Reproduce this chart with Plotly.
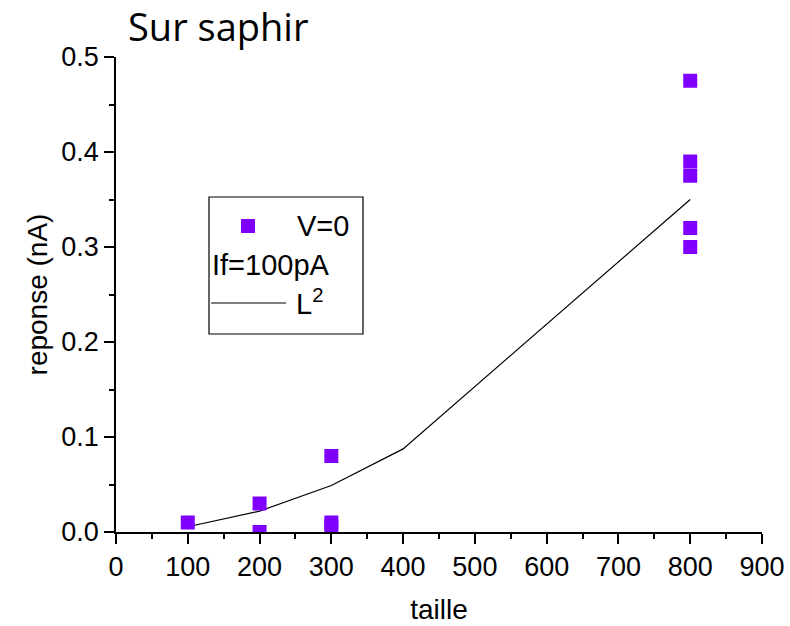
import plotly.graph_objects as go

# Measured responses (nA) versus size, V=0, If=100pA
taille_pts = [100, 200, 200, 300, 300, 300, 800, 800, 800, 800, 800]
reponse_pts = [0.010, 0.030, 0.000, 0.080, 0.010, 0.006, 0.475, 0.390, 0.375, 0.320, 0.300]

# L^2 reference curve
taille_l2 = [100, 200, 300, 400, 800]
reponse_l2 = [0.0055, 0.022, 0.049, 0.0875, 0.350]

x_ticks = [0, 100, 200, 300, 400, 500, 600, 700, 800, 900]
y_ticks = [0.0, 0.1, 0.2, 0.3, 0.4, 0.5]

PURPLE = "#7f00ff"
W, H = 790, 626
L, R, T, B = 116, 28, 57, 94
PW, PH = W - L - R, H - T - B


def px_x(px):
    return (px - L) / PW


def px_y(py):
    return (H - B - py) / PH


fig = go.Figure()
fig.add_trace(go.Scatter(
    x=taille_l2, y=reponse_l2, mode="lines",
    line=dict(color="black", width=1.2), showlegend=False,
))
fig.add_trace(go.Scatter(
    x=taille_pts, y=reponse_pts, mode="markers",
    marker=dict(symbol="square", size=14, color=PURPLE, line=dict(width=0)),
    showlegend=False,
))

axis_font = dict(family="Liberation Sans, Arial", size=27, color="black")
title_font = dict(family="Liberation Sans, Arial", size=28, color="black")
common = dict(
    showline=True, linecolor="black", linewidth=1.5, mirror=False,
    ticks="outside", ticklen=10, tickwidth=1.5, tickcolor="black",
    showgrid=False, zeroline=False, tickfont=axis_font, automargin=False,
)

fig.update_xaxes(
    range=[0, 900], tickvals=x_ticks, ticktext=[str(v) for v in x_ticks],
    title=dict(text="taille", font=title_font, standoff=18),
    minor=dict(ticks="outside", ticklen=5, tickwidth=1.5, tickcolor="black", dtick=50),
    **common,
)
fig.update_yaxes(
    range=[0, 0.5], tickvals=y_ticks, ticktext=[f"{v:.1f}" for v in y_ticks],
    title=dict(text="reponse (nA)", font=title_font, standoff=6),
    minor=dict(ticks="outside", ticklen=5, tickwidth=1.5, tickcolor="black", dtick=0.05),
    **common,
)

shapes = [
    # legend frame
    dict(type="rect", xref="paper", yref="paper",
         x0=px_x(209), x1=px_x(363), y0=px_y(334), y1=px_y(197),
         line=dict(color="black", width=1.2), fillcolor="rgba(0,0,0,0)"),
    # legend marker sample
    dict(type="rect", xref="paper", yref="paper",
         x0=px_x(241), x1=px_x(255), y0=px_y(233), y1=px_y(219),
         line=dict(width=0), fillcolor=PURPLE),
    # legend line sample
    dict(type="line", xref="paper", yref="paper",
         x0=px_x(211), x1=px_x(286), y0=px_y(303), y1=px_y(303),
         line=dict(color="black", width=1)),
]

legend_font = dict(family="Liberation Sans, Arial", size=29, color="black")
annotations = [
    dict(text="V=0", x=px_x(295), y=px_y(226), xref="paper", yref="paper",
         xanchor="left", yanchor="middle", showarrow=False, font=legend_font),
    dict(text="If=100pA", x=px_x(210), y=px_y(265), xref="paper", yref="paper",
         xanchor="left", yanchor="middle", showarrow=False, font=legend_font),
    dict(text="L<sup>2</sup>", x=px_x(294), y=px_y(302), xref="paper", yref="paper",
         xanchor="left", yanchor="middle", showarrow=False, font=legend_font),
    dict(text="Sur saphir", x=px_x(126), y=px_y(26), xref="paper", yref="paper",
         xanchor="left", yanchor="middle", showarrow=False,
         font=dict(family="Open Sans", size=38, color="black")),
]

fig.update_layout(
    width=W, height=H,
    margin=dict(l=L, r=R, t=T, b=B),
    paper_bgcolor="white", plot_bgcolor="white",
    shapes=shapes, annotations=annotations,
    showlegend=False,
)

fig.write_html("out.html")
